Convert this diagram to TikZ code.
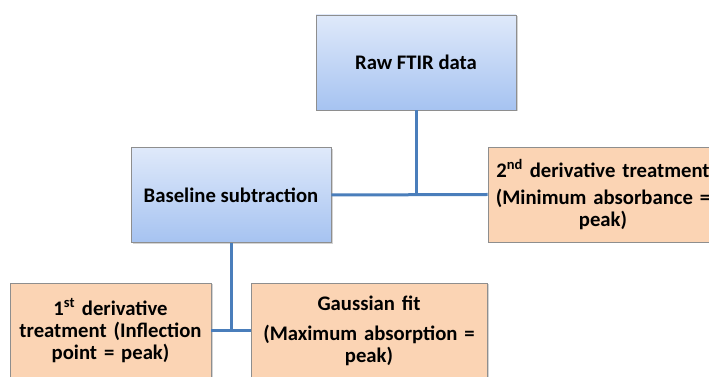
\documentclass[tikz,border=0pt]{standalone}
\usepackage{fontspec}
\setmainfont{Carlito}
\usetikzlibrary{shadows}
\definecolor{linkblue}{HTML}{4A7EBB}
\definecolor{boxtop}{HTML}{DFE9FA}
\definecolor{boxbot}{HTML}{A6C3F1}
\definecolor{peach}{HTML}{FBD4B4}
\definecolor{edgegray}{HTML}{8E8E8E}
\tikzset{
  stepbase/.style={draw=edgegray, line width=0.8pt, inner sep=0pt, align=center,
    font=\bfseries\fontsize{20.7}{22}\selectfont,
    drop shadow={shadow xshift=1.5pt, shadow yshift=-1.5pt, opacity=0.35}},
  bluebox/.style={stepbase, top color=boxtop, bottom color=boxbot,
    minimum width=200pt, minimum height=95pt},
  peachbox/.style={stepbase, fill=peach},
  link/.style={draw=linkblue, line width=3pt}
}
\begin{document}
\begin{tikzpicture}[x=1pt, y=1pt]
			%%%%% FRAME %%%%%
			\useasboundingbox (0, 0) rectangle (709, 377);
			\clip (0, 0) rectangle (709, 377);
			
			%%%%% BOXES %%%%%
			\node[bluebox] (raw) at (416, 314.5) {Raw FTIR data};
			\node[bluebox] (baseline) at (231, 182) {Baseline subtraction};
			\node[peachbox, minimum width=230pt, minimum height=95pt, text width=228pt] (second) at (603, 182.5)
				{2\textsuperscript{nd} derivative treatment\\[5pt](Minimum absorbance =\\peak)};
			\node[peachbox, minimum width=201pt, minimum height=95pt, text width=199pt] (first) at (110.5, 46.5)
				{1\textsuperscript{st} derivative\\treatment (Inflection\\point = peak)};
			\node[peachbox, minimum width=236pt, minimum height=95pt, text width=234pt] (gauss) at (369, 46.5)
				{Gaussian fit\\[8pt](Maximum absorption =\\peak)};
			
			%%%%% LINKS %%%%%
			\draw[link] (baseline.east) -- (second.west);
			\draw[link] (raw.south) -- (raw.south |- baseline.east);
			\draw[link] (first.east) -- (gauss.west);
			\draw[link] (baseline.south) -- (baseline.south |- first.east);
			
			%%%%% END %%%%%
\end{tikzpicture}
\end{document}
